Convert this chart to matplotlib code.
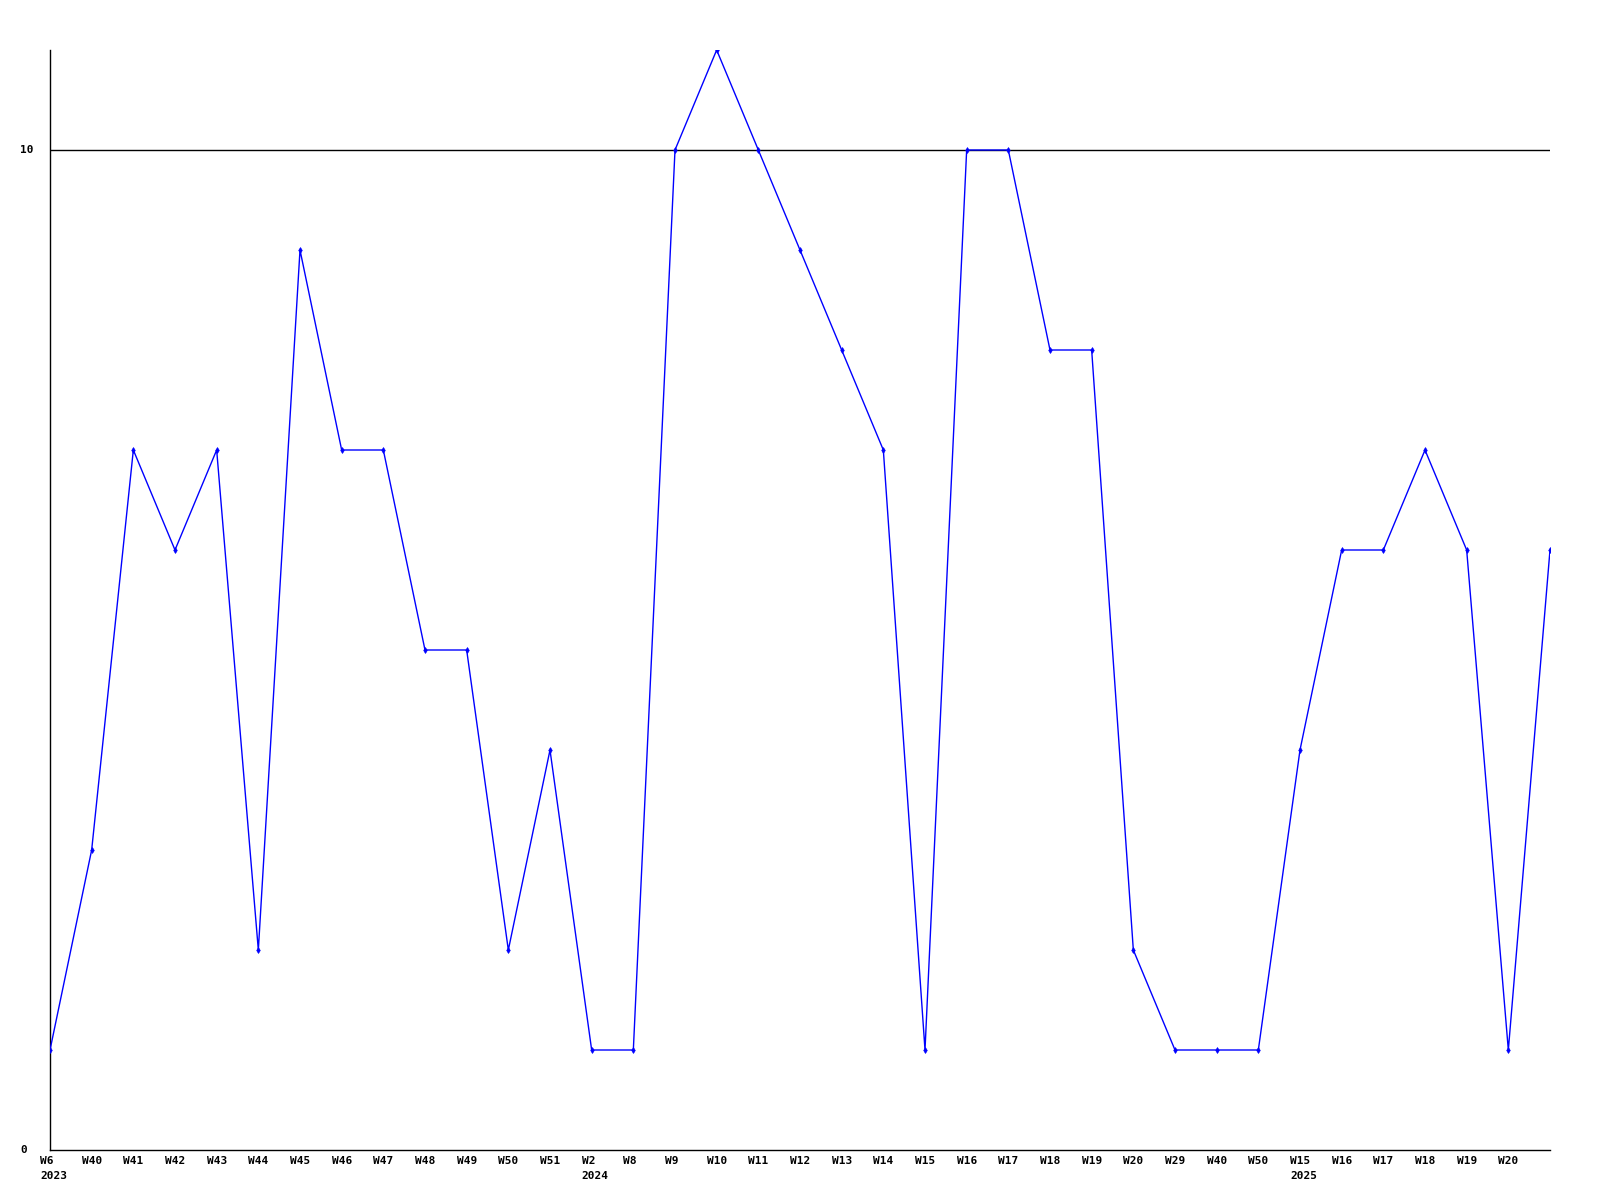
import matplotlib
matplotlib.use("Agg")
import matplotlib.pyplot as plt
from matplotlib.transforms import blended_transform_factory

weeks = ["W6", "W40", "W41", "W42", "W43", "W44", "W45", "W46", "W47", "W48", "W49",
         "W50", "W51", "W2", "W8", "W9", "W10", "W11", "W12", "W13", "W14", "W15",
         "W16", "W17", "W18", "W19", "W20", "W29", "W40", "W50", "W15", "W16", "W17",
         "W18", "W19", "W20", ""]
years = {0: "2023", 13: "2024", 30: "2025"}
values = [1, 3, 7, 6, 7, 2, 9, 7, 7, 5, 5, 2, 4, 1, 1, 10, 11, 10, 9, 8, 7, 1,
          10, 10, 8, 8, 2, 1, 1, 1, 4, 6, 6, 7, 6, 1, 6]
ytick_vals = [0, 10]

W, H = 1600, 1200
fig = plt.figure(figsize=(16, 12), dpi=100)
ax = fig.add_axes([50 / W, 50 / H, 1500 / W, 1100 / H])
font = dict(family="DejaVu Sans Mono", fontweight="bold", fontsize=8)

x = list(range(len(values)))
ax.axhline(10, color="black", lw=1, zorder=1)
ax.plot(x, values, color="#0000ff", lw=1, marker="d", markersize=3,
        markeredgewidth=0.5, zorder=3)
ax.set_xlim(0, len(values) - 1)
ax.set_ylim(0, 11)
for s in ["top", "right"]:
    ax.spines[s].set_visible(False)
for s in ["left", "bottom"]:
    ax.spines[s].set_linewidth(1)
ax.set_xticks([])
ax.set_yticks([])

tr = blended_transform_factory(ax.transData, ax.transAxes)
for i, lab in enumerate(weeks):
    if lab:
        ax.annotate(lab, xy=(i, 0), xycoords=tr, xytext=(-7.2, -4.5),
                    textcoords="offset points", ha="left", va="top", **font)
    if i in years:
        ax.annotate(years[i], xy=(i, 0), xycoords=tr, xytext=(-7.2, -15),
                    textcoords="offset points", ha="left", va="top", **font)

trY = blended_transform_factory(fig.transFigure, ax.transData)
for v in ytick_vals:
    ax.text(20 / W, v, str(v), transform=trY, ha="left", va="center", **font)

fig.savefig("out.png", dpi=100)
